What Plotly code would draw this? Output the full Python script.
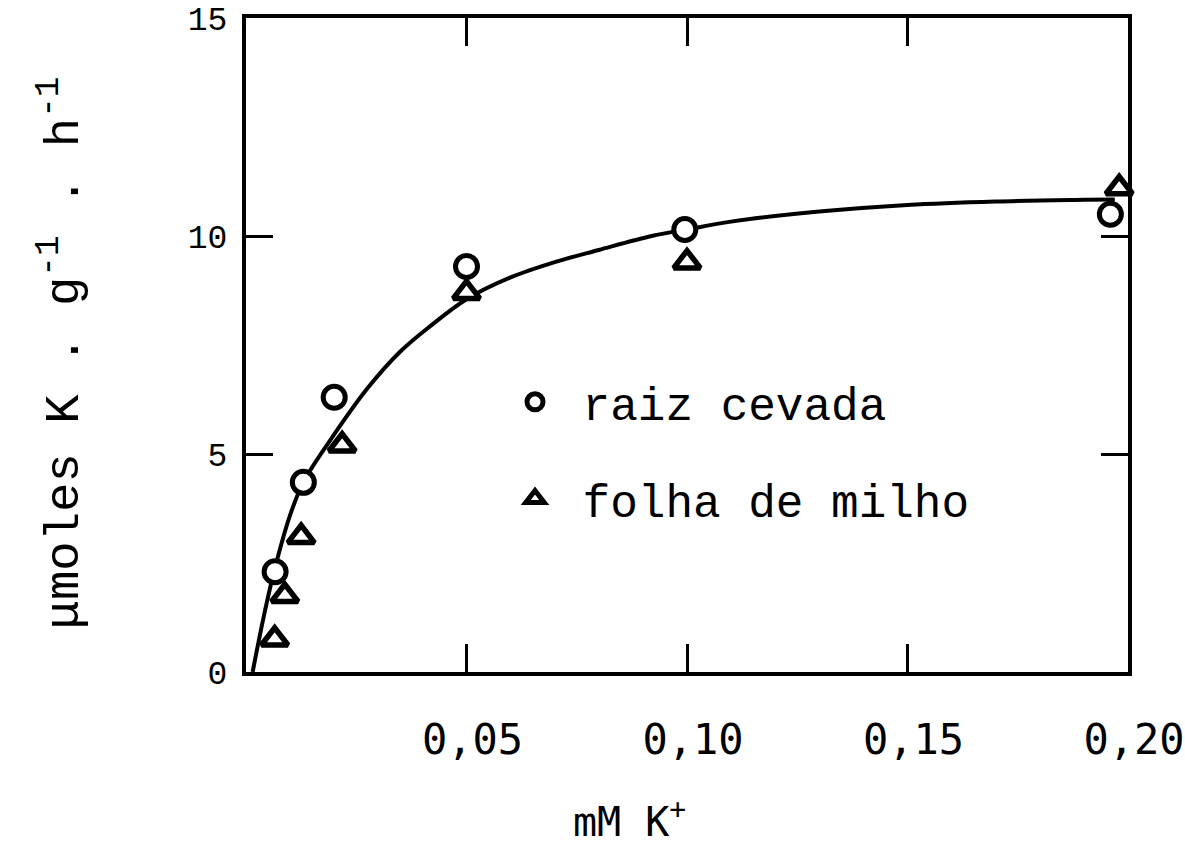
import plotly.graph_objects as go

# Measured uptake points
raiz_x = [0.0066, 0.0130, 0.0200, 0.0500, 0.0995, 0.1960]
raiz_y = [2.30, 4.35, 6.30, 9.30, 10.15, 10.50]

folha_x = [0.0065, 0.0088, 0.0125, 0.0218, 0.0500, 0.1000, 0.1980]
folha_y = [0.75, 1.75, 3.10, 5.20, 8.70, 9.40, 11.10]

# Hand-fitted saturation curve
curva_x = [0.0015, 0.0040, 0.0066, 0.0100, 0.0130, 0.0190, 0.0275, 0.0350,
           0.0420, 0.0500, 0.0600, 0.0700, 0.0800, 0.0920, 0.1000, 0.1100,
           0.1300, 0.1500, 0.1700, 0.1900, 0.1970]
curva_y = [0.00, 1.26, 2.40, 3.60, 4.35, 5.30, 6.50, 7.35,
           7.95, 8.55, 9.05, 9.40, 9.68, 10.00, 10.15, 10.33,
           10.56, 10.71, 10.79, 10.83, 10.84]

x_ticks = [0.05, 0.10, 0.15, 0.20]
x_labels = ["0,05", "0,10", "0,15", "0,20"]
y_ticks = [0, 5, 10, 15]
y_labels = ["0", "5", "10", "15"]

SERIF_MONO = "Liberation Mono"
SANS_MONO = "DejaVu Sans Mono"

fig = go.Figure()

fig.add_trace(go.Scatter(
    x=curva_x, y=curva_y, mode="lines",
    line=dict(color="black", width=4, shape="spline", smoothing=1.0),
    showlegend=False, hoverinfo="skip",
))

fig.add_trace(go.Scatter(
    x=raiz_x, y=raiz_y, mode="markers", name="\u00a0raiz cevada",
    marker=dict(symbol="circle", size=22, color="white",
                line=dict(color="black", width=5)),
    cliponaxis=False, legend="legend",
))

fig.add_trace(go.Scatter(
    x=folha_x, y=folha_y, mode="markers", name="\u00a0folha de milho",
    marker=dict(symbol="triangle-up", size=23, color="white",
                line=dict(color="black", width=5.5)),
    cliponaxis=False, legend="legend2",
))

legend_style = dict(
    font=dict(family=SERIF_MONO, size=46, color="black"),
    bgcolor="rgba(0,0,0,0)", borderwidth=0,
    xanchor="left", yanchor="middle", itemsizing="trace",
)

fig.update_layout(
    width=1185, height=858,
    margin=dict(l=246, r=57, t=18, b=186, autoexpand=False),
    paper_bgcolor="white", plot_bgcolor="white",
    legend=dict(x=0.305, y=0.413, **legend_style),
    legend2=dict(x=0.305, y=0.265, **legend_style),
    xaxis=dict(
        range=[0, 0.20], tickmode="array", tickvals=x_ticks, ticktext=x_labels,
        ticks="inside", ticklen=28, tickwidth=3, tickcolor="black",
        showline=True, linecolor="black", linewidth=4, mirror="ticks",
        showgrid=False, zeroline=False, automargin=False,
        tickfont=dict(family=SANS_MONO, size=42, color="black"),
        ticklabelstandoff=28, ticklabelshift=6, ticklabeloverflow="allow",
    ),
    yaxis=dict(
        range=[0, 15], tickmode="array", tickvals=y_ticks, ticktext=y_labels,
        ticks="inside", ticklen=27, tickwidth=3, tickcolor="black",
        showline=True, linecolor="black", linewidth=4, mirror="ticks",
        showgrid=False, zeroline=False, automargin=False,
        tickfont=dict(family=SERIF_MONO, size=33, color="black"),
        ticklabelstandoff=8, ticklabeloverflow="allow",
    ),
    annotations=[
        dict(
            text="\u03bcmoles K . g<sup>-1</sup> . h<sup>-1</sup>",
            xref="paper", yref="paper", x=-0.209, y=0.488,
            xanchor="center", yanchor="middle", textangle=-90,
            showarrow=False,
            font=dict(family=SERIF_MONO, size=49, color="black"),
        ),
        dict(
            text="mM K<sup>+</sup>",
            xref="paper", yref="paper", x=0.435, y=-0.225,
            xanchor="center", yanchor="middle", showarrow=False,
            font=dict(family=SANS_MONO, size=40, color="black"),
        ),
    ],
)

fig.write_html("out.html")
